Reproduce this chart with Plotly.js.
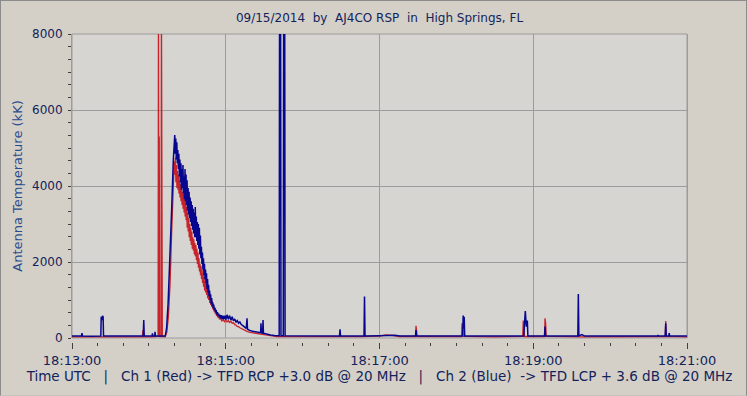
<!DOCTYPE html>
<html>
<head>
<meta charset="utf-8">
<script src="https://cdn.plot.ly/plotly-3.0.1.min.js"></script>
<style>
html,body{margin:0;padding:0;background:#D4D0C8;}
#wrap{position:relative;width:747px;height:396px;}
#chart{width:747px;height:396px;}
#frame{position:absolute;left:0;top:0;width:745px;height:394px;border:1px solid #8c8c8c;border-bottom-color:#c8c4bc;pointer-events:none;}
</style>
</head>
<body>
<div id="wrap"><div id="chart"></div><div id="frame"></div></div>
<script>
// Time offsets in seconds after 18:13:00 UTC, values in kK
const redT = [0,20,40,54.9,55.4,55.8,62,67.2,67.5,67.8,68.1,68.4,69.5,69.8,70.2,70.5,72.6,74.0,75.2,76.5,77.8,79.1,79.8,
80.3,80.7,81.1,81.5,81.9,82.3,82.7,83.1,83.5,83.9,84.3,84.7,85.1,85.5,85.9,86.3,86.7,87.1,87.5,87.9,88.3,88.7,89.1,89.5,89.9,
90.3,90.7,91.1,91.5,91.9,92.3,92.7,93.1,93.5,93.9,94.3,94.7,95.1,95.5,95.9,96.3,96.7,97.1,97.5,97.9,98.3,98.7,99.1,99.5,99.9,
100.3,100.7,101.1,101.5,101.9,102.3,102.7,103.1,103.5,103.9,104.3,104.7,105.1,105.5,105.9,106.3,106.7,107.1,107.5,107.9,108.3,108.7,109.1,109.5,109.9,
110.3,110.8,111.3,111.8,112.3,112.8,113.3,113.8,114.5,115.2,116.0,117.0,118.0,119.0,120.0,121.0,122.0,123.0,124.0,125.0,126.0,127.0,128.0,129.0,130.0,
131.0,132.0,133.0,135.0,137.0,139.0,143.0,147.0,151.0,155.0,160.0,175,190,209,225,240,245,250,255,268.1,268.5,268.9,269.3,290,
304.0,304.4,304.8,305.2,330,351.8,352.2,352.7,353.1,368.8,369.2,369.7,370.1,400,430,463.0,463.4,463.8,480];
const redV = [30,35,30,35,210,30,30,40,9000,40,5300,40,40,9000,4900,40,30,150,550,1400,2800,4100,4650,
4300,4750,4100,4550,3950,4400,3900,4300,3800,4150,3700,4050,3600,3950,3500,3850,3400,3800,3300,3700,3200,3600,3100,3450,2900,
3300,2800,3150,2650,3000,2550,2900,2450,2800,2350,2650,2300,2600,2200,2500,2150,2450,2050,2350,1950,2250,1850,2100,1750,1950,
1650,1900,1550,1800,1450,1700,1350,1600,1250,1500,1200,1450,1130,1380,1050,1270,1000,1200,920,1120,870,1040,820,960,760,
880,700,780,640,700,580,640,540,570,490,520,450,480,430,470,420,460,410,440,390,400,350,340,300,300,
270,250,230,200,170,150,120,100,80,60,40,35,30,40,35,50,80,70,40,40,320,200,40,35,
40,390,200,40,30,40,460,300,40,40,520,380,40,30,30,40,450,40,30];

const blueT = [0,7.4,7.8,8.2,15,22.5,22.8,23.3,23.8,24.3,24.6,35,45,55.6,56.0,56.4,62.5,62.8,63.1,64.5,64.8,65.1,72.8,73.8,75.0,76.4,77.8,79.1,
80.2,80.6,81.0,81.4,81.8,82.2,82.6,83.0,83.4,83.8,84.2,84.6,85.0,85.4,85.8,86.2,86.6,87.0,87.4,87.8,88.2,88.6,89.0,89.4,89.8,
90.2,90.6,91.0,91.4,91.8,92.2,92.6,93.0,93.4,93.8,94.2,94.6,95.0,95.4,95.8,96.2,96.6,97.0,97.4,97.8,98.2,98.6,99.0,99.4,99.8,
100.2,100.6,101.0,101.4,101.8,102.2,102.6,103.0,103.4,103.8,104.2,104.6,105.0,105.4,105.8,106.2,106.6,107.0,107.4,107.8,108.2,108.6,109.0,109.4,109.8,
110.2,110.6,111.0,111.5,112.0,112.5,113.0,113.5,114.0,114.5,115.0,115.5,116.0,116.5,117.0,117.5,118.0,118.5,119.0,119.5,120.0,
121.0,122.0,123.0,124.0,125.0,126.0,127.0,128.0,129.0,130.0,131.0,132.0,133.0,134.0,135.0,136.0,136.6,137.0,138.0,139.0,141.0,143.0,145.0,
147.2,147.5,147.8,148.8,149.1,149.4,152.0,155.0,158.0,161.7,162.0,162.8,163.1,164.9,165.2,166.0,166.3,
175,190,200,208.8,209.2,209.6,220,227.9,228.3,228.7,240,247,252,256,268.1,268.5,268.9,290,
304.9,305.3,305.7,306.1,306.5,330,352.6,353.8,354.6,355.4,355.8,368.8,369.2,369.6,394.8,395.2,395.6,398,400,430,
457.2,457.4,457.6,463.0,463.4,463.8,465.8,466.1,466.4,480];
const blueV = [50,50,130,50,45,50,560,470,580,560,50,55,50,50,470,50,50,120,50,50,160,50,55,250,900,2000,3400,4700,
5340,4850,5250,4700,5150,4600,4950,4450,4850,4250,4700,4100,4600,3900,4450,3950,4550,3800,4250,3650,4450,3600,4300,3500,4150,
3350,3950,3250,3850,3150,3700,3050,3600,2950,3500,2850,3400,2750,3300,2650,3450,2650,3200,2550,3050,2450,3000,2350,2900,2200,
2700,2100,2400,1950,2250,1800,2100,1650,1950,1550,1800,1450,1700,1300,1550,1200,1400,1100,1250,1000,1150,900,1050,850,940,
790,880,740,800,680,740,620,680,590,640,540,610,520,600,500,590,490,580,500,590,480,
610,490,590,470,560,450,500,420,460,390,420,360,340,300,280,250,520,230,210,195,175,160,145,
140,390,135,130,470,125,100,80,65,60,9000,9000,60,60,9000,9000,60,
55,50,55,55,230,55,50,50,1090,50,60,80,75,55,55,210,55,50,
55,590,250,560,55,50,55,710,300,460,55,55,300,55,55,1160,55,90,50,50,
50,80,50,55,390,55,55,130,55,55];

const xTickStart = '18:13:00';
const xTickEnd = '18:21:00';
const dateStr = '2014-09-15';

const base = Date.UTC(2014, 8, 15, 18, 13, 0);
function toTime(s) {
  return new Date(base + s * 1000).toISOString().replace('T', ' ').replace('Z', '');
}

const navy = '#13235a';
const traces = [
  {x: redT.map(toTime), y: redV, type: 'scatter', mode: 'lines',
   line: {color: '#c8232a', width: 1.3}, hoverinfo: 'skip'},
  {x: blueT.map(toTime), y: blueV, type: 'scatter', mode: 'lines',
   line: {color: '#06068e', width: 1.5}, hoverinfo: 'skip'}
];

const nb = '\u00A0';
const layout = {
  width: 747, height: 396,
  paper_bgcolor: '#D4D0C8',
  plot_bgcolor: '#D6D5D2',
  showlegend: false,
  margin: {l: 72, r: 60, t: 34, b: 54},
  title: {text: '09/15/2014' + nb+nb + 'by' + nb+nb + 'AJ4CO RSP' + nb+nb + 'in' + nb+nb + 'High Springs, FL',
          font: {family: 'DejaVu Sans', size: 12, color: navy}, xref: 'paper', x: 0.5, xanchor: 'center', y: 0.955, yanchor: 'middle'},
  xaxis: {
    type: 'date',
    range: [dateStr + ' ' + xTickStart, dateStr + ' ' + xTickEnd],
    anchor: 'free', position: 0,
    tick0: dateStr + ' ' + xTickStart, dtick: 120000,
    tickformat: '%H:%M:%S',
    ticks: 'outside', ticklen: 6, tickcolor: '#404040', tickwidth: 1,
    minor: {dtick: 20000, ticks: 'outside', ticklen: 3, tickcolor: '#404040', showgrid: false},
    showgrid: true, gridcolor: '#9c9c9c', gridwidth: 1,
    showline: false, zeroline: false,
    tickfont: {family: 'DejaVu Sans', size: 13, color: navy},
    title: {text: 'Time UTC' + nb+nb + ' |' + nb+nb+nb + 'Ch 1 (Red) -> TFD RCP +3.0 dB @ 20 MHz' + nb+nb+nb + '|' + nb+nb+nb + 'Ch 2 (Blue)' + nb+nb + '-> TFD LCP + 3.6 dB @ 20 MHz',
            font: {family: 'DejaVu Sans', size: 13.5, color: navy}, standoff: 1}
  },
  yaxis: {
    range: [0, 8000], domain: [4/308, 1],
    dtick: 2000, tickformat: 'd',
    ticks: 'outside', ticklen: 3, tickcolor: '#404040',
    ticklabelstandoff: 3,
    minor: {dtick: 2000/6, ticks: 'outside', ticklen: 3, tickcolor: '#404040', showgrid: false},
    showgrid: true, gridcolor: '#9c9c9c', gridwidth: 1,
    showline: true, linecolor: '#9c9c9c', mirror: true, zeroline: false,
    tickfont: {family: 'DejaVu Sans', size: 12, color: navy},
    title: {text: 'Antenna Temperature (kK)', font: {family: 'DejaVu Sans', size: 13, color: '#2c4c8e'}, standoff: 6}
  },
  shapes: [{type: 'rect', xref: 'paper', yref: 'y domain', x0: 0, x1: 1, y0: 0, y1: 1,
            line: {color: '#9c9c9c', width: 1}, layer: 'below'}]
};

Plotly.newPlot('chart', traces, layout, {staticPlot: true, displayModeBar: false});
</script>
</body>
</html>
